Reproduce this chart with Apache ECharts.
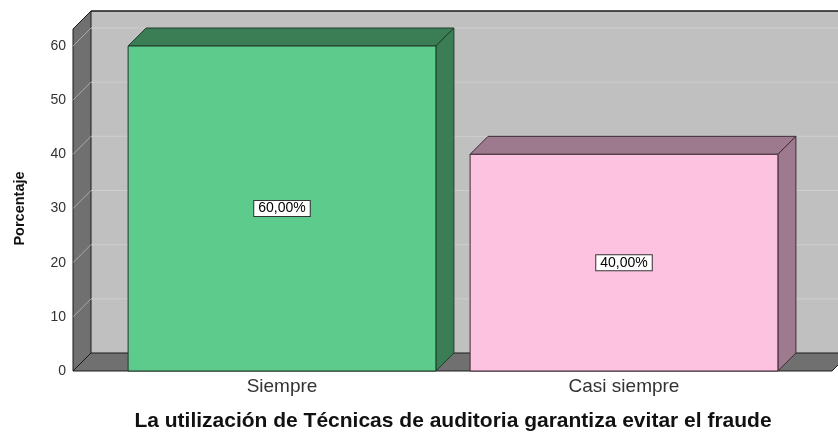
<!DOCTYPE html>
<html>
<head>
<meta charset="utf-8">
<script src="https://cdn.jsdelivr.net/npm/echarts@6/dist/echarts.min.js"></script>
<style>
html, body { margin: 0; padding: 0; background: #fff; }
#chart { width: 838px; height: 435px; }
</style>
</head>
<body>
<div id="chart"></div>
<script>
const categorias = ['Siempre', 'Casi siempre']
const porcentajes = [60, 40]
const ticksY = [0, 10, 20, 30, 40, 50, 60]
const titulo = 'La utilización de Técnicas de auditoria garantiza evitar el fraude'
const nombreEje = 'Porcentaje'

const coloresFrente = ['#5ccb8b', '#fcc2e0']
const coloresSombra = ['#3b7e56', '#9d7a8e']
const coloresBorde = ['#1f3d2b', '#3e2b36']
const prof = 18 // profundidad del efecto 3d
const desplazEje = 38
const fuente = '"Liberation Sans", Arial, sans-serif'

// paredes, piso y lineas de la rejilla
function dibujarCaja(params, api) {
    const cs = params.coordSys
    const W = api.getWidth()
    const x0 = cs.x - desplazEje
    const y0 = api.coord([0, 0])[1]
    const yTop = cs.y - 17
    const hijos = []
    hijos.push({
        type: 'rect',
        shape: { x: x0 + prof, y: yTop - prof, width: W, height: y0 - yTop },
        style: { fill: '#c0c0c0' }
    })
    hijos.push({
        type: 'polygon',
        shape: { points: [[x0, yTop], [x0 + prof, yTop - prof], [x0 + prof, y0 - prof], [x0, y0]] },
        style: { fill: '#707070', stroke: '#1a1a1a', lineWidth: 1 }
    })
    hijos.push({
        type: 'polygon',
        shape: { points: [[x0, y0], [x0 + prof, y0 - prof], [W + 12, y0 - prof], [W - 6, y0]] },
        style: { fill: '#707070', stroke: '#1a1a1a', lineWidth: 1 }
    })
    ticksY.forEach(function (v) {
        if (v === 0) return
        const y = api.coord([0, v])[1]
        hijos.push({
            type: 'line',
            shape: { x1: x0 + prof, y1: y - prof, x2: W, y2: y - prof },
            style: { stroke: '#cecece', lineWidth: 1 }
        })
        hijos.push({
            type: 'line',
            shape: { x1: x0, y1: y, x2: x0 + prof, y2: y - prof },
            style: { stroke: '#a9a9a9', lineWidth: 1 }
        })
    })
    hijos.push({
        type: 'line',
        shape: { x1: x0 + prof, y1: yTop - prof, x2: W, y2: yTop - prof },
        style: { stroke: '#1a1a1a', lineWidth: 1.5 }
    })
    return { type: 'group', children: hijos }
}

// barra con cara frontal, superior y lateral
function dibujarBarra(params, api) {
    const i = api.value(0)
    const tope = api.coord([i, api.value(1)])
    const base = api.coord([i, 0])
    const ancho = api.size([1, 0])[0] * 0.9
    const L = tope[0] - ancho / 2
    const R = tope[0] + ancho / 2
    const yT = tope[1]
    const yB = base[1]
    const borde = coloresBorde[i]
    const texto = api.value(1).toFixed(2).replace('.', ',') + '%'
    return {
        type: 'group',
        children: [
            {
                type: 'polygon',
                shape: { points: [[L, yT], [L + prof, yT - prof], [R + prof, yT - prof], [R, yT]] },
                style: { fill: coloresSombra[i], stroke: borde, lineWidth: 1 }
            },
            {
                type: 'polygon',
                shape: { points: [[R, yT], [R + prof, yT - prof], [R + prof, yB - prof], [R, yB]] },
                style: { fill: coloresSombra[i], stroke: borde, lineWidth: 1 }
            },
            {
                type: 'rect',
                shape: { x: L, y: yT, width: ancho, height: yB - yT },
                style: { fill: coloresFrente[i], stroke: borde, lineWidth: 1 }
            },
            {
                type: 'text',
                style: {
                    text: texto,
                    x: tope[0],
                    y: (yT + yB) / 2,
                    align: 'center',
                    verticalAlign: 'middle',
                    fill: '#000',
                    font: '14px ' + fuente,
                    backgroundColor: '#fff',
                    borderColor: '#333',
                    borderWidth: 1,
                    padding: [1, 4, 0, 4]
                }
            }
        ]
    }
}

const chart = echarts.init(document.getElementById('chart'))
chart.setOption({
    animation: false,
    grid: { left: 111, right: 43, top: 46, bottom: 64, outerBoundsMode: 'none' },
    xAxis: {
        type: 'category',
        data: categorias,
        axisLine: { show: false },
        axisTick: { show: false },
        axisLabel: { fontSize: 19, color: '#333', margin: 6, fontFamily: fuente },
        name: titulo,
        nameLocation: 'middle',
        nameGap: 40,
        nameTextStyle: { fontSize: 21, fontWeight: 'bold', color: '#111', fontFamily: fuente }
    },
    yAxis: {
        type: 'value',
        min: 0,
        max: 60,
        interval: 10,
        offset: desplazEje,
        axisLine: { show: false },
        axisTick: { show: false },
        splitLine: { show: false },
        axisLabel: { fontSize: 14, color: '#333', margin: 7, fontFamily: fuente },
        name: nombreEje,
        nameLocation: 'middle',
        nameRotate: 90,
        nameGap: 46,
        nameTextStyle: { fontSize: 14.5, fontWeight: 'bold', color: '#111', fontFamily: fuente }
    },
    series: [
        {
            type: 'custom',
            silent: true,
            renderItem: dibujarCaja,
            data: [[0, 0]]
        },
        {
            type: 'custom',
            renderItem: dibujarBarra,
            encode: { x: 0, y: 1 },
            data: porcentajes.map(function (v, i) { return [i, v] })
        }
    ]
})
</script>
</body>
</html>
